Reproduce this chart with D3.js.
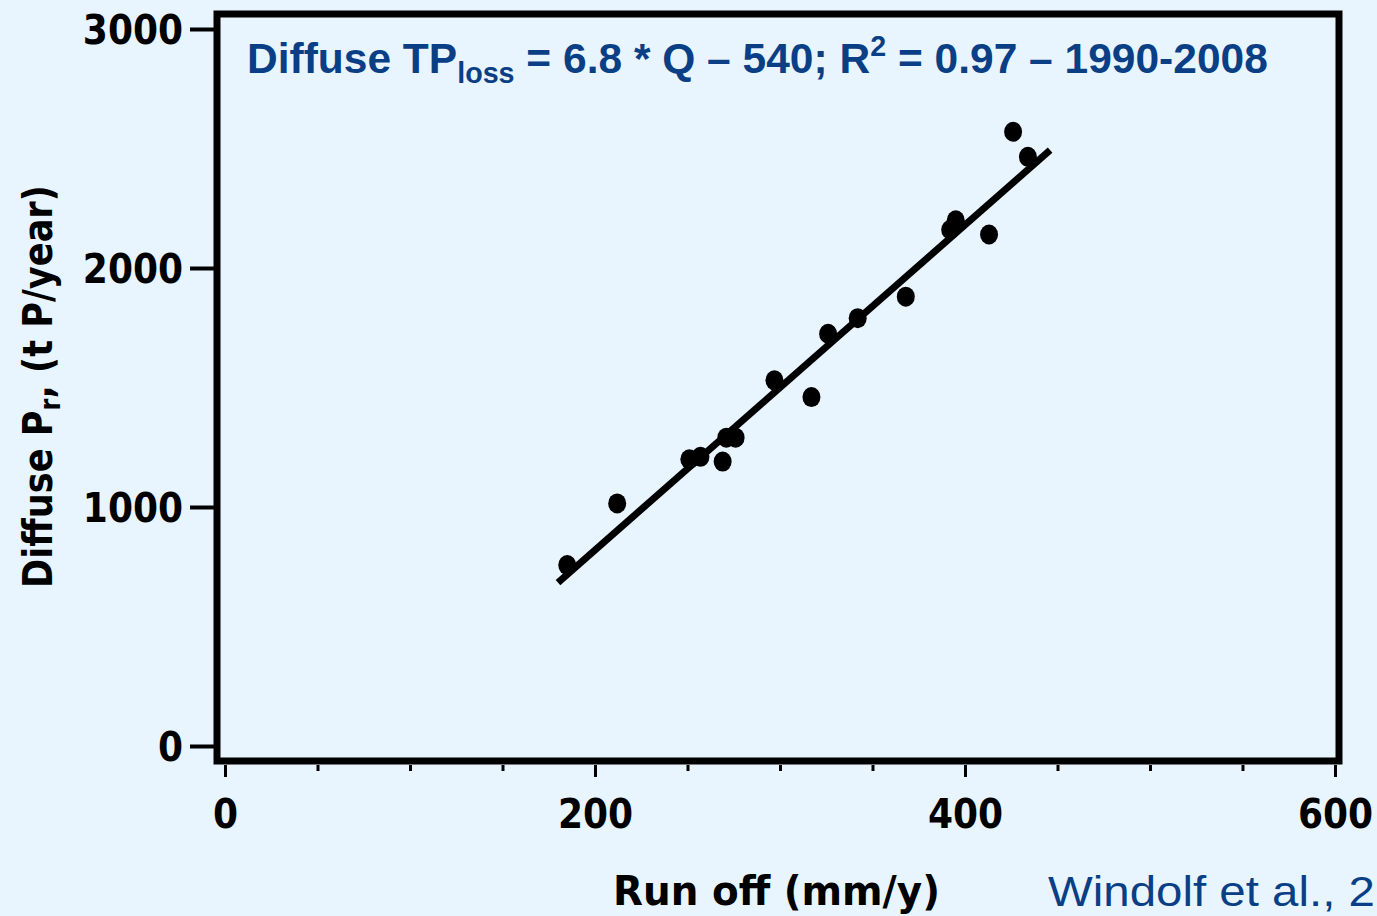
<!DOCTYPE html>
<html>
<head>
<meta charset="utf-8">
<script src="https://cdn.jsdelivr.net/npm/d3@7/dist/d3.min.js"></script>
<style>
  html, body { margin: 0; padding: 0; background: #e8f5fe; overflow: hidden; }
  svg { display: block; }
</style>
</head>
<body>
<svg id="chart" width="1377" height="916"></svg>
<script>
// Annual run-off (mm/y) and diffuse phosphorus loss (t P/year), 1990-2008
const runoff = [185, 212, 251, 257, 269, 271, 276, 297, 317, 326, 342, 368, 392, 395, 413, 426, 434];
const diffuseP = [757, 1015, 1200, 1210, 1190, 1290, 1290, 1530, 1460, 1725, 1790, 1880, 2160, 2200, 2140, 2570, 2465];

// Fitted regression: TP_loss = 6.8 * Q - 540, drawn across the observed run-off span
const fitSlope = 6.8;
const fitIntercept = -540;
const fitRange = [180, 446];

const xTicks = [0, 200, 400, 600];
const xMinorTicks = [50, 100, 150, 250, 300, 350, 450, 500, 550];
const yTicks = [0, 1000, 2000, 3000];

const blue = "#0a3f86";
const svg = d3.select("#chart");

const x = d3.scaleLinear().domain([0, 600]).range([225, 1335]);
const y = d3.scaleLinear().domain([0, 3000]).range([746, 29]);

// Stretch or squeeze a text node horizontally so it spans a given width
function fitWidth(sel, left, baseline, width, rotate) {
  const w = sel.node().getComputedTextLength();
  const sx = width / w;
  if (rotate) {
    sel.attr("transform", `translate(${left},${baseline}) rotate(-90) scale(${sx},1)`);
  } else {
    sel.attr("transform", `translate(${left},${baseline}) scale(${sx},1)`);
  }
}

// Plot frame
const frame = { l: 217, t: 14, r: 1339, b: 761 };
svg.append("rect")
  .attr("x", frame.l).attr("y", frame.t)
  .attr("width", frame.r - frame.l).attr("height", frame.b - frame.t)
  .attr("fill", "none").attr("stroke", "#000").attr("stroke-width", 7);

const tickFont = "'DejaVu Sans Condensed', 'DejaVu Sans', Verdana, sans-serif";

// Y axis: ticks left of the frame
const yAxis = svg.append("g")
  .attr("transform", `translate(${frame.l - 3},0)`)
  .call(d3.axisLeft(y).tickValues(yTicks).tickSize(24).tickPadding(7).tickFormat(d3.format("d")));
yAxis.select(".domain").remove();
yAxis.selectAll(".tick line").attr("stroke", "#000").attr("stroke-width", 4);
yAxis.selectAll(".tick text")
  .attr("fill", "#000")
  .style("font-family", tickFont).style("font-weight", "bold").style("font-size", "40px")
  .attr("dy", "0.36em");

// X axis: major ticks with labels, minor ticks without
const xAxisY = frame.b + 4;
const xAxis = svg.append("g")
  .attr("transform", `translate(0,${xAxisY})`)
  .call(d3.axisBottom(x).tickValues(xTicks).tickSize(12).tickPadding(23).tickFormat(d3.format("d")));
xAxis.select(".domain").remove();
xAxis.selectAll(".tick line").attr("stroke", "#000").attr("stroke-width", 3);
xAxis.selectAll(".tick text")
  .attr("fill", "#000")
  .style("font-family", tickFont).style("font-weight", "bold").style("font-size", "40px");

const xMinor = svg.append("g")
  .attr("transform", `translate(0,${xAxisY})`)
  .call(d3.axisBottom(x).tickValues(xMinorTicks).tickSize(6).tickFormat(""));
xMinor.select(".domain").remove();
xMinor.selectAll(".tick line").attr("stroke", "#000").attr("stroke-width", 3);

// Axis titles
const xTitle = svg.append("text")
  .attr("fill", "#000")
  .style("font-family", "'DejaVu Sans', Verdana, sans-serif").style("font-weight", "bold").style("font-size", "41px")
  .text("Run off (mm/y)");
fitWidth(xTitle, 613, 905, 327, false);

const yTitle = svg.append("text")
  .attr("fill", "#000")
  .style("font-family", "'DejaVu Sans', Verdana, sans-serif").style("font-weight", "bold").style("font-size", "41px");
yTitle.append("tspan").text("Diffuse P");
yTitle.append("tspan").attr("dy", 8).style("font-size", "28px").text("r");
yTitle.append("tspan").attr("dy", -8).text(", (t P/year)");
fitWidth(yTitle, 52, 588, 403, true);

// Regression line
const fitLine = fitRange.map(q => [q, fitSlope * q + fitIntercept]);
svg.append("path")
  .datum(fitLine)
  .attr("d", d3.line().x(d => x(d[0])).y(d => y(d[1])))
  .attr("stroke", "#000").attr("stroke-width", 7).attr("fill", "none");

// Observations
svg.append("g").selectAll("ellipse")
  .data(runoff.map((q, i) => [q, diffuseP[i]]))
  .join("ellipse")
  .attr("cx", d => x(d[0])).attr("cy", d => y(d[1]))
  .attr("rx", 9).attr("ry", 10)
  .attr("fill", "#000");

// Equation banner
const title = svg.append("text")
  .attr("fill", blue)
  .style("font-family", "'Liberation Sans', Arial, sans-serif").style("font-weight", "bold").style("font-size", "43px");
title.append("tspan").text("Diffuse TP");
title.append("tspan").attr("dy", 10).style("font-size", "29px").text("loss");
title.append("tspan").attr("dy", -10).text(" = 6.8 * Q \u2013 540; R");
title.append("tspan").attr("dy", -17).style("font-size", "29px").text("2");
title.append("tspan").attr("dy", 17).text(" = 0.97 \u2013 1990-2008");
fitWidth(title, 247, 73, 1021, false);

// Source note
const source = svg.append("text")
  .attr("fill", blue)
  .style("font-family", "'Liberation Sans', Arial, sans-serif").style("font-size", "42px")
  .text("Windolf et al., 2");
fitWidth(source, 1048, 906, 327, false);
</script>
</body>
</html>
